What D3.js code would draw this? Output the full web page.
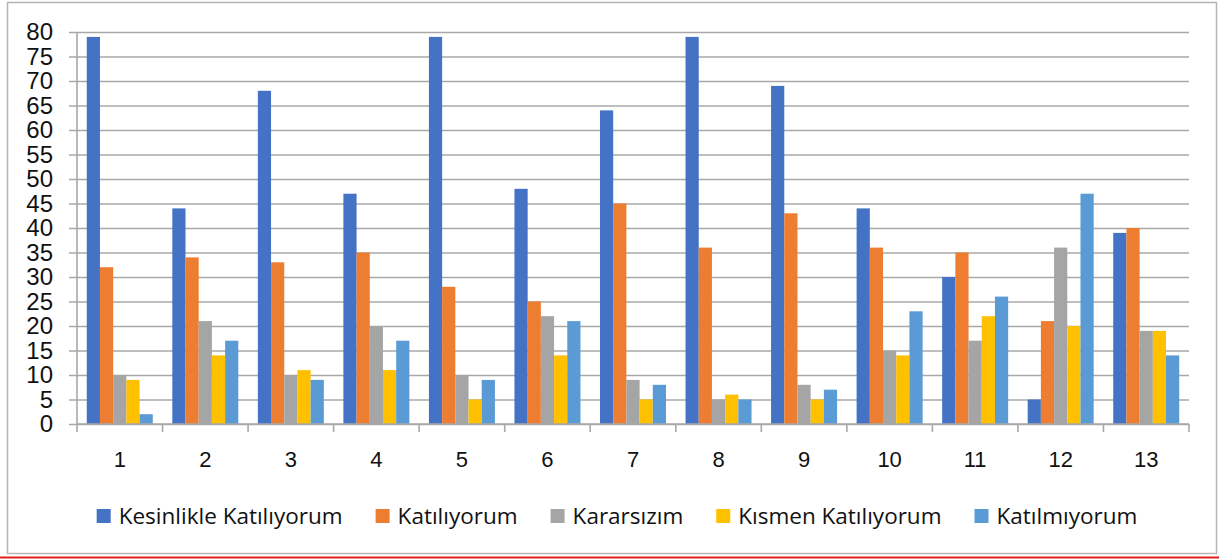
<!DOCTYPE html>
<html>
<head>
<meta charset="utf-8">
<script src="https://cdn.jsdelivr.net/npm/d3@7"></script>
<style>
  body{margin:0;background:#fff}
  svg{display:block;font-family:"Open Sans", Lato, sans-serif}
  .grid line{stroke:#a8a8a8;stroke-width:1.6}
  .axis text{fill:#111}
</style>
</head>
<body>
<svg id="chart" width="1219" height="559"></svg>
<script>
// items 1..13, five answer categories
const categories = ["1","2","3","4","5","6","7","8","9","10","11","12","13"]
const seriesNames = ["Kesinlikle Katılıyorum","Katılıyorum","Kararsızım","Kısmen Katılıyorum","Katılmıyorum"]
const colours = ["#4472C4","#ED7D31","#A5A5A5","#FFC000","#5B9BD5"]

const kesinlikle = [79,44,68,47,79,48,64,79,69,44,30,5,39]
const katiliyorum = [32,34,33,35,28,25,45,36,43,36,35,21,40]
const kararsizim = [10,21,10,20,10,22,9,5,8,15,17,36,19]
const kismen = [9,14,11,11,5,14,5,6,5,14,22,20,19]
const katilmiyorum = [2,17,9,17,9,21,8,5,7,23,26,47,14]

const yTicks = d3.range(0, 81, 5)

const seriesValues = [kesinlikle, katiliyorum, kararsizim, kismen, katilmiyorum]

let svg = d3.select("#chart"),
    margin = {left: 77, right: 30, top: 32, bottom: 135},
    width = +svg.attr("width") - margin.left - margin.right,
    height = +svg.attr("height") - margin.top - margin.bottom

// outer frame + the red rule under it
svg.append("rect")
   .attr("x", 7.5).attr("y", 2.5)
   .attr("width", 1209).attr("height", 551)
   .attr("fill", "none")
   .attr("stroke", "#b5b5b5")
   .attr("stroke-width", 1.5)

svg.append("line")
   .attr("x1", 0).attr("x2", 1219)
   .attr("y1", 557.5).attr("y2", 557.5)
   .attr("stroke", "#e41e1e")
   .attr("stroke-width", 2)

let focus = svg.append("g")
               .attr("transform", "translate(" + margin.left + "," + margin.top + ")")

let x0 = d3.scaleBand()
           .domain(categories)
           .range([0, width])

let x1 = d3.scaleBand()
           .domain(seriesNames)
           .range([0, x0.bandwidth()])
           .paddingOuter(0.74)

let y = d3.scaleLinear()
          .domain([0, 80])
          .range([height, 0])

// gridlines, which also make the little ticks left of the axis
focus.append("g")
     .attr("class", "grid axis")
     .attr("transform", "translate(-8,0)")
     .call(d3.axisLeft(y)
             .tickValues(yTicks)
             .tickSize(-(width + 8))
             .tickPadding(16))
     .call(g => g.select(".domain").remove())
     .selectAll("text")
     .style("font-size", "24px")

// bars
let rows = categories.map((c, i) => ({cat: c, vals: seriesNames.map((s, j) => ({key: s, value: seriesValues[j][i], colour: colours[j]}))}))

focus.selectAll(".group")
     .data(rows)
     .join("g")
     .attr("class", "group")
     .attr("transform", d => "translate(" + x0(d.cat) + ",0)")
     .selectAll("rect")
     .data(d => d.vals)
     .join("rect")
     .attr("x", d => x1(d.key))
     .attr("width", x1.bandwidth())
     .attr("y", d => y(d.value))
     .attr("height", d => height - y(d.value))
     .attr("fill", d => d.colour)

// y axis line
focus.append("line")
     .attr("x1", 0).attr("x2", 0)
     .attr("y1", 0).attr("y2", height)
     .attr("stroke", "#a8a8a8")
     .attr("stroke-width", 1.6)

// x axis: baseline, ticks between categories, labels
focus.append("line")
     .attr("x1", 0).attr("x2", width)
     .attr("y1", height).attr("y2", height)
     .attr("stroke", "#a8a8a8")
     .attr("stroke-width", 1.6)

let bounds = categories.map(c => x0(c)).concat([width])
focus.selectAll(".xtick")
     .data(bounds)
     .join("line")
     .attr("class", "xtick")
     .attr("x1", d => d).attr("x2", d => d)
     .attr("y1", height).attr("y2", height + 8)
     .attr("stroke", "#a8a8a8")
     .attr("stroke-width", 1.6)

focus.append("g")
     .attr("class", "axis")
     .attr("transform", "translate(0," + height + ")")
     .call(d3.axisBottom(x0).tickSize(0).tickPadding(27))
     .call(g => g.select(".domain").remove())
     .selectAll("text")
     .style("font-size", "22px")

// legend, laid out left to right then centred
let legend = svg.append("g")
let cursor = 0
seriesNames.forEach((s, i) => {
  let item = legend.append("g").attr("transform", "translate(" + cursor + ",0)")
  item.append("rect")
      .attr("x", 0).attr("y", -7)
      .attr("width", 14).attr("height", 14)
      .attr("fill", colours[i])
  let t = item.append("text")
              .attr("x", 22).attr("y", 0)
              .attr("dy", "0.36em")
              .style("font-size", "22.5px")
              .attr("fill", "#111")
              .text(s)
  cursor += 22 + t.node().getComputedTextLength() + 33
})
let legendW = cursor - 33
legend.attr("transform", "translate(" + (617 - legendW / 2) + ",516)")
</script>
</body>
</html>
